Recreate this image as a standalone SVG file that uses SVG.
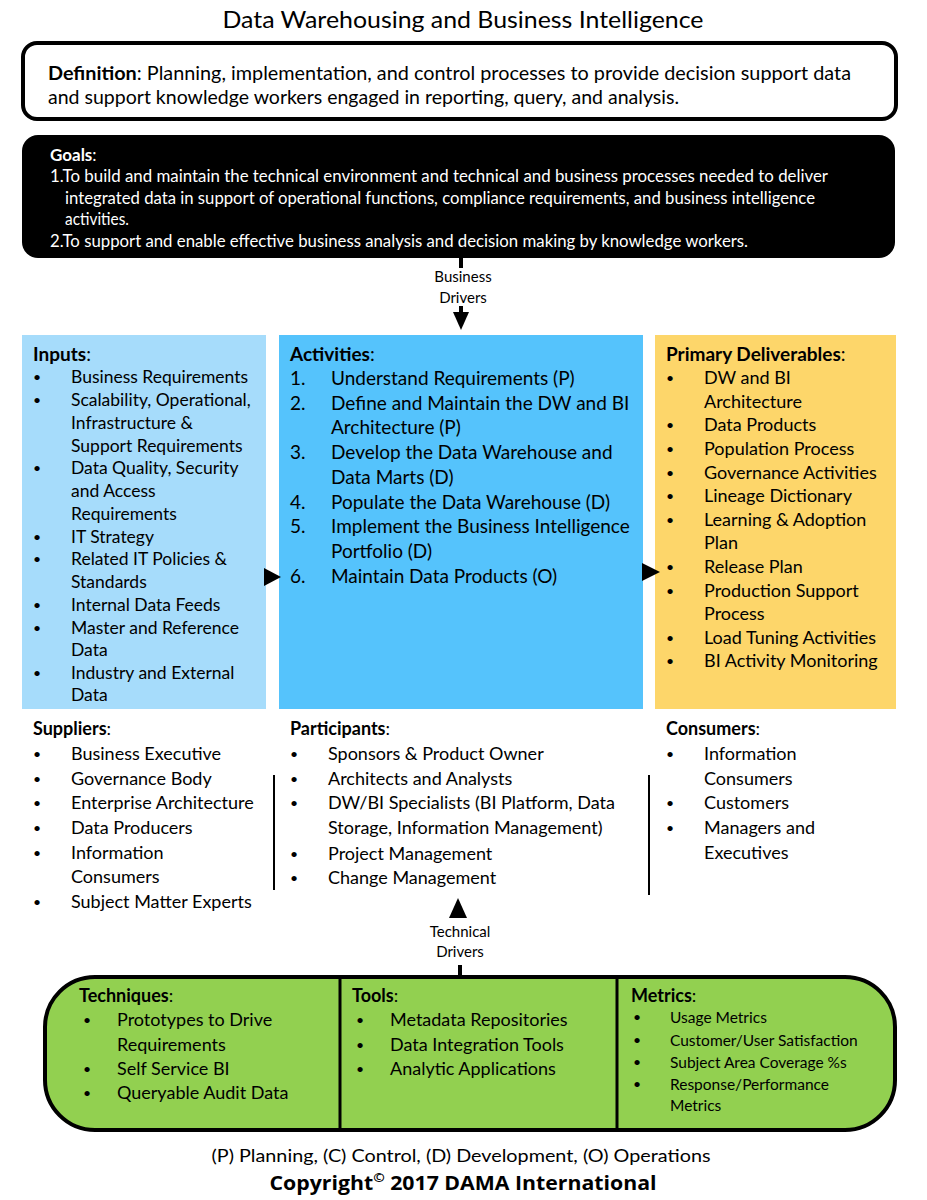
<svg xmlns="http://www.w3.org/2000/svg" width="927" height="1200" viewBox="0 0 927 1200">
<style>
text{font-family:Lato,"Noto Sans",sans-serif;fill:#000}
.t{font-size:24px}
.d{font-size:19px}
.g{font-size:17px;fill:#fff}
.s{font-size:15px}
.h{font-weight:bold}
.i{font-size:17.5px}
.a{font-size:19px}
.p{font-size:18px}
.m{font-size:15.5px}
.f{font-size:18px}
.b{font-size:14px}
.c{font-family:"Open Sans","DejaVu Sans",sans-serif;font-weight:bold;font-size:20px}
.ln{stroke:#000;stroke-width:2}
</style>
<rect width="927" height="1200" fill="#fff"/>
<text class="t" x="463" y="28" text-anchor="middle" textLength="481" lengthAdjust="spacingAndGlyphs">Data Warehousing and Business Intelligence</text>

<g id="definition">
<rect x="23" y="43" width="873" height="76" rx="14" fill="#fff" stroke="#000" stroke-width="4"/>
<text class="d" x="48" y="80" textLength="803" lengthAdjust="spacingAndGlyphs"><tspan class="h">Definition</tspan>: Planning, implementation, and control processes to provide decision support data</text>
<text class="d" x="48" y="104" textLength="631" lengthAdjust="spacingAndGlyphs">and support knowledge workers engaged in reporting, query, and analysis.</text>
</g>

<g id="goals">
<rect x="22" y="135" width="873" height="123" rx="16" fill="#000"/>
<text class="g h" x="50" y="161">Goals<tspan font-weight="normal">:</tspan></text>
<text class="g" x="50" y="182" textLength="778" lengthAdjust="spacingAndGlyphs">1.To build and maintain the technical environment and technical and business processes needed to deliver</text>
<text class="g" x="65" y="204" textLength="750" lengthAdjust="spacingAndGlyphs">integrated data in support of operational functions, compliance requirements, and business intelligence</text>
<text class="g" x="65" y="225" textLength="64" lengthAdjust="spacingAndGlyphs">activities.</text>
<text class="g" x="50" y="247" textLength="698" lengthAdjust="spacingAndGlyphs">2.To support and enable effective business analysis and decision making by knowledge workers.</text>
</g>

<g id="inputs">
<rect x="22" y="335" width="244" height="374" fill="#a6dcfb"/>
<text class="a h" x="33" y="361">Inputs<tspan font-weight="normal">:</tspan></text>
<g class="i">
<text class="b" x="33" y="382">•</text><text x="71" y="383">Business Requirements</text>
<text class="b" x="33" y="405">•</text><text x="71" y="406">Scalability, Operational,</text>
<text x="71" y="429">Infrastructure &amp;</text>
<text x="71" y="452">Support Requirements</text>
<text class="b" x="33" y="473">•</text><text x="71" y="474">Data Quality, Security</text>
<text x="71" y="497">and Access</text>
<text x="71" y="520">Requirements</text>
<text class="b" x="33" y="542">•</text><text x="71" y="543">IT Strategy</text>
<text class="b" x="33" y="564">•</text><text x="71" y="565">Related IT Policies &amp;</text>
<text x="71" y="588">Standards</text>
<text class="b" x="33" y="610">•</text><text x="71" y="611">Internal Data Feeds</text>
<text class="b" x="33" y="633">•</text><text x="71" y="634">Master and Reference</text>
<text x="71" y="656">Data</text>
<text class="b" x="33" y="678">•</text><text x="71" y="679">Industry and External</text>
<text x="71" y="701">Data</text>
</g>
</g>

<g id="activities">
<rect x="279" y="335" width="364" height="374" fill="#55c3fc"/>
<text class="a h" x="290" y="361">Activities<tspan font-weight="normal">:</tspan></text>
<g class="a">
<text x="290" y="385">1.</text><text x="331" y="385">Understand Requirements (P)</text>
<text x="290" y="410">2.</text><text x="331" y="410">Define and Maintain the DW and BI</text>
<text x="331" y="434">Architecture (P)</text>
<text x="290" y="459">3.</text><text x="331" y="459">Develop the Data Warehouse and</text>
<text x="331" y="484">Data Marts (D)</text>
<text x="290" y="509">4.</text><text x="331" y="509">Populate the Data Warehouse (D)</text>
<text x="290" y="533">5.</text><text x="331" y="533">Implement the Business Intelligence</text>
<text x="331" y="558">Portfolio (D)</text>
<text x="290" y="583">6.</text><text x="331" y="583">Maintain Data Products (O)</text>
</g>
</g>

<g id="deliverables">
<rect x="655" y="335" width="241" height="374" fill="#fdd66a"/>
<text class="a h" x="666" y="361">Primary Deliverables<tspan font-weight="normal">:</tspan></text>
<g class="p">
<text class="b" x="666" y="383">•</text><text x="704" y="384">DW and BI</text>
<text x="704" y="408">Architecture</text>
<text class="b" x="666" y="430">•</text><text x="704" y="431">Data Products</text>
<text class="b" x="666" y="454">•</text><text x="704" y="455">Population Process</text>
<text class="b" x="666" y="478">•</text><text x="704" y="479">Governance Activities</text>
<text class="b" x="666" y="501">•</text><text x="704" y="502">Lineage Dictionary</text>
<text class="b" x="666" y="525">•</text><text x="704" y="526">Learning &amp; Adoption</text>
<text x="704" y="549">Plan</text>
<text class="b" x="666" y="572">•</text><text x="704" y="573">Release Plan</text>
<text class="b" x="666" y="596">•</text><text x="704" y="597">Production Support</text>
<text x="704" y="620">Process</text>
<text class="b" x="666" y="643">•</text><text x="704" y="644">Load Tuning Activities</text>
<text class="b" x="666" y="666">•</text><text x="704" y="667">BI Activity Monitoring</text>
</g>
</g>

<g id="suppliers" class="p">
<text class="h" x="33" y="735">Suppliers<tspan font-weight="normal">:</tspan></text>
<text class="b" x="33" y="759">•</text><text x="71" y="760">Business Executive</text>
<text class="b" x="33" y="784">•</text><text x="71" y="785">Governance Body</text>
<text class="b" x="33" y="808">•</text><text x="71" y="809">Enterprise Architecture</text>
<text class="b" x="33" y="833">•</text><text x="71" y="834">Data Producers</text>
<text class="b" x="33" y="858">•</text><text x="71" y="859">Information</text>
<text x="71" y="883">Consumers</text>
<text class="b" x="33" y="907">•</text><text x="71" y="908">Subject Matter Experts</text>
</g>

<g id="participants" class="p">
<text class="h" x="290" y="735">Participants<tspan font-weight="normal">:</tspan></text>
<text class="b" x="290" y="759">•</text><text x="328" y="760">Sponsors &amp; Product Owner</text>
<text class="b" x="290" y="784">•</text><text x="328" y="785">Architects and Analysts</text>
<text class="b" x="290" y="808">•</text><text x="328" y="809">DW/BI Specialists (BI Platform, Data</text>
<text x="328" y="834">Storage, Information Management)</text>
<text class="b" x="290" y="859">•</text><text x="328" y="860">Project Management</text>
<text class="b" x="290" y="883">•</text><text x="328" y="884">Change Management</text>
</g>

<g id="consumers" class="p">
<text class="h" x="666" y="735">Consumers<tspan font-weight="normal">:</tspan></text>
<text class="b" x="666" y="759">•</text><text x="704" y="760">Information</text>
<text x="704" y="785">Consumers</text>
<text class="b" x="666" y="808">•</text><text x="704" y="809">Customers</text>
<text class="b" x="666" y="833">•</text><text x="704" y="834">Managers and</text>
<text x="704" y="859">Executives</text>
</g>

<g id="bottom">
<rect x="45" y="977" width="850" height="153" rx="50" fill="#92d050" stroke="#000" stroke-width="4"/>
<line x1="340" y1="977" x2="340" y2="1130" stroke="#000" stroke-width="3"/>
<line x1="617" y1="977" x2="617" y2="1130" stroke="#000" stroke-width="3"/>
<g class="p">
<text class="h" x="79" y="1002">Techniques<tspan font-weight="normal">:</tspan></text>
<text class="b" x="83" y="1025">•</text><text x="117" y="1026">Prototypes to Drive</text>
<text x="117" y="1051">Requirements</text>
<text class="b" x="83" y="1074">•</text><text x="117" y="1075">Self Service BI</text>
<text class="b" x="83" y="1098">•</text><text x="117" y="1099">Queryable Audit Data</text>
<text class="h" x="352" y="1002">Tools<tspan font-weight="normal">:</tspan></text>
<text class="b" x="356" y="1025">•</text><text x="390" y="1026">Metadata Repositories</text>
<text class="b" x="356" y="1050">•</text><text x="390" y="1051">Data Integration Tools</text>
<text class="b" x="356" y="1074">•</text><text x="390" y="1075">Analytic Applications</text>
<text class="h" x="631" y="1002">Metrics<tspan font-weight="normal">:</tspan></text>
</g>
<g class="m">
<text class="b" x="633" y="1022">•</text><text x="670" y="1023">Usage Metrics</text>
<text class="b" x="633" y="1045">•</text><text x="670" y="1046">Customer/User Satisfaction</text>
<text class="b" x="633" y="1067">•</text><text x="670" y="1068">Subject Area Coverage %s</text>
<text class="b" x="633" y="1089">•</text><text x="670" y="1090">Response/Performance</text>
<text x="670" y="1111">Metrics</text>
</g>
</g>

<g id="connectors">
<line x1="461" y1="258" x2="461" y2="268" stroke="#000" stroke-width="4"/>
<text class="s" x="463" y="282" text-anchor="middle">Business</text>
<text class="s" x="463" y="303" text-anchor="middle">Drivers</text>
<line x1="461" y1="306" x2="461" y2="314" stroke="#000" stroke-width="4"/>
<polygon points="453,312 469,312 461,330" fill="#000"/>
<polygon points="264,568 264,586 281,577" fill="#000"/>
<polygon points="642,563 642,581 660,572" fill="#000"/>
<line x1="274" y1="775" x2="274" y2="890" class="ln"/>
<line x1="649" y1="775" x2="649" y2="895" class="ln"/>
<polygon points="458,898 449,918 467,918" fill="#000"/>
<text class="s" x="460" y="937" text-anchor="middle">Technical</text>
<text class="s" x="460" y="957" text-anchor="middle">Drivers</text>
<line x1="460" y1="965" x2="460" y2="977" stroke="#000" stroke-width="4"/>
</g>

<text class="f" x="461" y="1162" text-anchor="middle" textLength="499" lengthAdjust="spacingAndGlyphs">(P) Planning, (C) Control, (D) Development, (O) Operations</text>
<text class="c" x="463" y="1190" text-anchor="middle" textLength="387" lengthAdjust="spacingAndGlyphs">Copyright<tspan font-size="13" dy="-8">©</tspan><tspan dy="8"> 2017 DAMA International</tspan></text>
</svg>
